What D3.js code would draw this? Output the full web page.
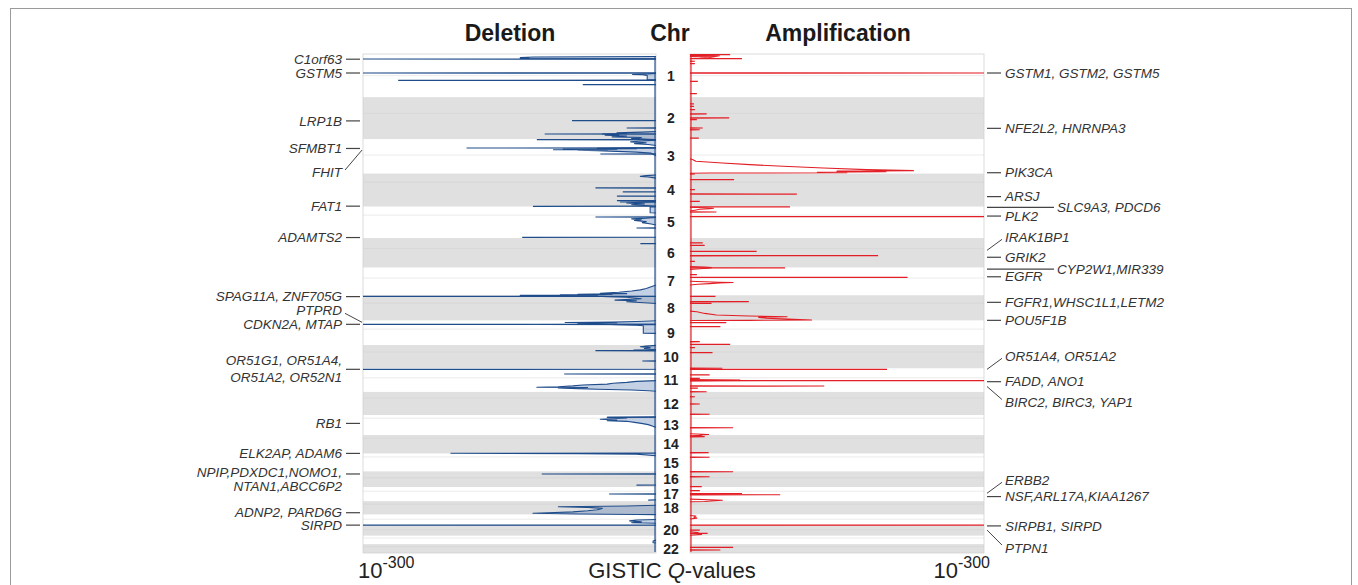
<!DOCTYPE html>
<html><head><meta charset="utf-8">
<script src="https://cdn.jsdelivr.net/npm/d3@7"></script>
<style>
body{margin:0;background:#fff;}
svg{display:block;font-family:"Liberation Sans",Arial,Helvetica,sans-serif;}
</style></head><body>
<svg id="chart" width="1358" height="585"></svg>
<script>
// ---------------- DATA ----------------
const chromosomes = d3.range(1, 23);
const chrLengths = [249.25,243.2,198.0,191.2,180.9,171.1,159.1,146.4,141.2,135.5,135.0,133.9,115.2,107.3,102.5,90.4,81.2,78.1,59.1,63.0,48.1,51.3];
const centromeres = [125.0,93.3,91.0,50.4,48.4,61.0,59.9,45.6,49.0,40.2,53.7,35.8,17.9,17.6,19.0,36.6,24.0,17.2,26.5,27.5,13.2,14.7];
const chrTickLabels = ["1","2","3","4","5","6","7","8","9","10","11","12","13","14","15","16","17","18","20","22"];

// [chromosome, position (Mb), -log10(q)]
const delSpikes = [
 [1,29,300],[1,109.7,300],[1,151.8,264],[1,177,75],
 [2,135.8,86],[2,178,30],[2,212.6,114],
 [3,2.4,122],[3,50.3,194],[3,85,57],
 [4,83,62],[4,106,34],[4,130,40],[4,156.6,40],[4,164,37],[4,188.7,126],
 [5,59.5,62],[5,123,20],[5,176.7,137],
 [6,32.7,16],
 [8,6.2,300],
 [9,21.5,300],[9,22.5,119],
 [10,28.6,23],[10,32.7,62],[10,92,14],
 [11,4.6,300],[11,31.7,94],
 [13,12.8,50],
 [16,15,117],[16,79,20],
 [17,40.3,48],[17,75,8],
 [20,1.5,300]
];
const delHumps = [
 [[1,14,0],[1,17,125],[1,20,139],[1,23,130],[1,26,139],[1,28,0]],
 [[1,112,0],[1,115,8],[1,118,24],[1,120,14],[1,124,9],[1,140,9],[1,148,9],[1,149,0]],
 [[2,198,0],[2,202,15],[2,206,40],[2,209,30],[2,213,55],[2,216,38],[2,220,52],[2,224,30],[2,229,45],[2,233,15],[2,238,25],[2,243,8],[3,2,0]],
 [[3,5,0],[3,10,15],[3,15,26],[3,20,10],[3,25,22],[3,30,8],[3,36,0]],
 [[3,48,0],[3,52,60],[3,54,20],[3,56,95],[3,58,40],[3,60,105],[3,62,50],[3,63,80],[3,66,60],[3,70,40],[3,74,20],[3,80,5],[3,95,0]],
 [[4,8,0],[4,12,10],[4,16,16],[4,20,8],[4,26,0]],
 [[4,160,0],[4,165,15],[4,170,30],[4,175,12],[4,180,25],[4,186,8],[4,190,0]],
 [[5,1,0],[5,2,6],[5,35,6],[5,36,0]],
 [[5,62,0],[5,66,10],[5,70,25],[5,75,15],[5,80,22],[5,86,10],[5,92,14],[5,100,5],[5,106,0]],
 [[7,100,0],[7,110,5],[7,120,10],[7,128,16],[7,135,25],[7,142,38],[7,148,57],[7,150,30],[7,153,80],[7,155,45],[7,156,98],[7,159,60],[8,1,139],[8,2,60],[8,3,100],[8,5,60],[8,8,50],[8,12,30],[8,20,15],[8,28,42],[8,32,20],[8,38,30],[8,45,8],[8,48,0]],
 [[9,1,0],[9,5,20],[9,9,45],[9,11,93],[9,13,40],[9,14,70],[9,17,80],[9,20,60],[9,24,40],[9,27,20],[9,30,13],[9,73,13],[9,74,0]],
 [[10,2,0],[10,6,10],[10,10,16],[10,15,6],[10,20,12],[10,26,4],[10,29,0]],
 [[11,70,0],[11,74,20],[11,80,30],[11,85,44],[11,90,50],[11,95,75],[11,100,85],[11,105,100],[11,108.5,122],[11,110,70],[11,112,100],[11,116,80],[11,120,60],[11,124,25],[11,128,8],[11,131,0]],
 [[13,10,0],[13,12.8,50],[13,16,30],[13,20,40],[13,24,57],[13,28,40],[13,32,50],[13,36,30],[13,42,22],[13,48,15],[13,55,8],[13,65,3],[13,70,0]],
 [[14,104.5,0],[14,105.5,210],[14,107,80],[15,3,20],[15,12,0]],
 [[18,24,0],[18,28,30],[18,32.4,100],[18,36,70],[18,42,55],[18,50,60],[18,56,70],[18,62,85],[18,67,110],[18,70.5,126],[18,74,80],[18,77,20],[18,78,0]],
 [[19,28,0],[19,31,20],[19,36,27],[19,42,15],[19,47,25],[19,50,0]],
 [[21,25,0],[21,30,3],[21,40,3],[21,42,0]]
];

const ampSpikes = [
 [1,4,41],[1,13,26],[1,27,53],[1,42,5],[1,56,5],[1,109.7,300],[1,157.6,8],[1,229,7],
 [2,39,4],[2,53,4],[2,72,5],[2,97,17],[2,120,40],[2,130,7],[2,178,13],[2,188,10],[2,236,9],
 [4,2.4,5],[4,35,45],[4,93,5],[4,118,109],[4,160,10],
 [5,0.5,102],[5,30.6,27],[5,57.7,300],
 [6,28,13],[6,42,15],[6,76.6,68],[6,102,192],[6,135,5],
 [7,1,97],[7,40,7],[7,55.6,222],
 [8,6.2,26],[8,37.4,60],[8,47,22],
 [9,12,37],[9,35,31],[9,122,10],[9,137,41],
 [10,15,5],[10,44,23],[10,134,33],
 [11,4.6,201],[11,37,20],[11,57,10],[11,70.4,300],[11,101,137],[11,113,8],[11,134,17],
 [12,28,5],[12,70,10],[12,129,20],
 [13,73,44],
 [14,9.6,15],[14,102,19],
 [15,21,20],
 [16,2,44],[16,31,20],[16,88,12],
 [17,21,10],[17,37.8,53],[17,44.5,92],
 [20,1.5,300],[20,30,10],[20,49,18],
 [22,18.5,44],[22,34,31]
];
const ampHumps = [
 [[1,8,0],[1,10,30],[1,14,26],[1,20,20],[1,24,10],[1,26,0]],
 [[3,112,0],[3,117.6,3],[3,127,6],[3,136.7,33],[3,146.4,61],[3,156,95],[3,165.7,136],[3,175.3,180],[3,181,228],[3,184,150],[3,187,200],[3,190,130],[3,193,160],[3,195,20],[3,196,0]],
 [[5,3,0],[5,6,15],[5,9,24],[5,11.5,20],[5,15,10],[5,20,5],[5,25,0]],
 [[6,165,0],[6,168,15],[6,171,22],[7,3,18],[7,6,10],[7,10,0]],
 [[7,78,0],[7,81,15],[7,84,30],[7,86,44],[7,88,30],[7,92,20],[7,96,8],[7,100,0]],
 [[8,92,0],[8,95,7],[8,105,15],[8,114,27],[8,120,60],[8,124,99],[8,128,70],[8,133,78],[8,138,100],[8,143,124],[8,145,60],[8,146.3,0]],
 [[11,64,0],[11,66,51],[11,69,30],[11,70,0]],
 [[13,108,0],[13,112,19],[13,115,10],[14,2,12],[14,5,0]],
 [[17,70,0],[17,73,20],[17,76,33],[17,79,25],[18,2,15],[18,4,0]],
 [[19,5,0],[19,8,6],[19,15,4],[19,20,7],[19,25,0]],
 [[20,40,0],[20,45,8],[20,55,12],[20,60,0]]
];

// gene labels: [text lines, chromosome, Mb]
const delGenes = [
 [["C1orf63"],1,30],[["GSTM5"],1,109.7],[["LRP1B"],2,137],[["SFMBT1"],3,53],[["FHIT"],3,62],
 [["FAT1"],4,188],[["ADAMTS2"],5,178],[["SPAG11A, ZNF705G"],8,8],[["PTPRD"],9,10],
 [["CDKN2A, MTAP"],9,21.5],[["OR51G1, OR51A4,","OR51A2, OR52N1"],11,4.6],[["RB1"],13,48],
 [["ELK2AP, ADAM6"],14,106],[["NPIP,PDXDC1,NOMO1,","NTAN1,ABCC6P2"],16,15],
 [["ADNP2, PARD6G"],18,67],[["SIRPD"],20,1.5]
];
const ampGenes = [
 [["GSTM1, GSTM2, GSTM5"],1,109.7],[["NFE2L2, HNRNPA3"],2,180],[["PIK3CA"],3,193],[["ARSJ"],4,133],
 [["SLC9A3, PDCD6"],5,3.5],[["PLK2"],5,54],[["IRAK1BP1"],6,71],[["GRIK2"],6,111],
 [["CYP2W1,MIR339"],7,8],[["EGFR"],7,52.5],[["FGFR1,WHSC1L1,LETM2"],8,41],[["POU5F1B"],8,145],
 [["OR51A4, OR51A2"],11,4.6],[["FADD, ANO1"],11,76],[["BIRC2, BIRC3, YAP1"],11,104],
 [["ERBB2"],17,36],[["NSF,ARL17A,KIAA1267"],17,55],[["SIRPB1, SIRPD"],20,6],[["PTPN1"],20,30]
];

// ---------------- LAYOUT ----------------
const labelShift = {"FHIT":22,"PTPRD":-12,"IRAK1BP1":-13,"OR51A4, OR51A2":-13,"BIRC2, BIRC3, YAP1":16,"ERBB2":-13,"PTPN1":18};
const longLeader = {"SLC9A3, PDCD6":true,"CYP2W1,MIR339":true};
const lineGap = {"OR51G1, OR51A4,":[-9,8],"NPIP,PDXDC1,NOMO1,":[-2,12]};

const svg = d3.select("#chart");
const offsets = {}; let acc = 0;
chromosomes.forEach((c,i)=>{offsets[c]=acc; acc+=chrLengths[i];});
const total = acc;
const y = d3.scaleLinear().domain([0,total]).range([54,553]);
const gpos = (c,m)=>y(offsets[c]+m);
const delX = d3.scaleLinear().domain([0,300]).range([656,363]);
const ampX = d3.scaleLinear().domain([0,300]).range([690,984]);

// outer frame
svg.append("rect").attr("x",10.5).attr("y",8.5).attr("width",1341).attr("height",590)
  .attr("fill","none").attr("stroke","#9a9a9a").attr("stroke-width",1);

function drawPanel(X, spikes, humps, stroke, fill, fillOpacity){
  const g = svg.append("g");
  const left = Math.min(...X.range()), right = Math.max(...X.range());
  g.selectAll("rect.band").data(chromosomes).join("rect")
    .attr("x",left).attr("width",right-left)
    .attr("y",c=>gpos(c,0)).attr("height",(c,i)=>gpos(c,chrLengths[i])-gpos(c,0))
    .attr("fill",(c,i)=> i%2 ? "#e0e0e0" : "#ffffff");
  g.selectAll("line.cen").data(chromosomes).join("line")
    .attr("x1",left).attr("x2",right)
    .attr("y1",(c,i)=>gpos(c,centromeres[i])).attr("y2",(c,i)=>gpos(c,centromeres[i]))
    .attr("stroke",(c,i)=> i%2 ? "#d6d6d6" : "#e6e6e6").attr("stroke-width",0.8);
  g.append("rect").attr("x",left).attr("y",y(0)).attr("width",right-left).attr("height",y(total)-y(0))
    .attr("fill","none").attr("stroke","#d2d2d2").attr("stroke-width",0.8);
  g.append("line").attr("x1",X(1)).attr("x2",X(1)).attr("y1",y(0)+2).attr("y2",y(total)-1)
    .attr("stroke",stroke).attr("stroke-width",1.2);
  const line = d3.line().x(d=>X(d[2])).y(d=>gpos(d[0],d[1]));
  g.selectAll("path.hump").data(humps).join("path")
    .attr("d",d=>line(d)).attr("fill",fill).attr("fill-opacity",fillOpacity)
    .attr("stroke",stroke).attr("stroke-width",1.1).attr("stroke-linejoin","round");
  g.selectAll("path.spike").data(spikes).join("path")
    .attr("d",d=>line([[d[0],d[1]-0.4,0],[d[0],d[1],d[2]],[d[0],d[1]+0.4,0]]))
    .attr("fill",stroke).attr("stroke",stroke).attr("stroke-width",1.2).attr("stroke-linejoin","miter");
}
drawPanel(delX, delSpikes, delHumps, "#1f4c8a", "#3a68a6", 0.3);
drawPanel(ampX, ampSpikes, ampHumps, "#e21f26", "#e8454a", 0);

// chromosome labels
svg.append("g").selectAll("text").data(chrTickLabels).join("text")
  .attr("x",671).attr("y",d=>{const c=+d; return (gpos(c,0)+gpos(c,chrLengths[c-1]))/2;})
  .attr("dy","0.36em").attr("text-anchor","middle")
  .attr("font-size",14).attr("font-weight","bold").attr("fill","#222").text(d=>d);

// titles
const titles = [["Deletion",510],["Chr",670],["Amplification",838]];
svg.append("g").selectAll("text").data(titles).join("text")
  .attr("x",d=>d[1]).attr("y",41).attr("text-anchor","middle")
  .attr("font-size",23).attr("font-weight","bold").attr("fill","#1a1a1a").text(d=>d[0]);

// gene labels
const labelColor = "#333";
const gl = svg.append("g").attr("font-size",13.5).attr("font-style","italic").attr("fill",labelColor);
delGenes.forEach(([lines,c,m])=>{
  const ay = gpos(c,m); const sh = labelShift[lines[0]]||0;
  const ty = ay+sh;
  if(sh){
    gl.append("line").attr("x1",362).attr("y1",ay).attr("x2",345).attr("y2",ty+(sh>0?-2:3))
      .attr("stroke","#444").attr("stroke-width",1);
  } else {
    gl.append("line").attr("x1",346).attr("x2",360).attr("y1",ay).attr("y2",ay)
      .attr("stroke","#444").attr("stroke-width",1.2);
  }
  const gaps = lineGap[lines[0]] || [0];
  lines.forEach((t,i)=>{
    gl.append("text").attr("x",342).attr("y",ty+gaps[i]).attr("dy","0.35em")
      .attr("text-anchor","end").text(t);
  });
});
ampGenes.forEach(([lines,c,m])=>{
  const ay = gpos(c,m); const sh = labelShift[lines[0]]||0;
  const ty = ay+sh;
  let tx = 1005;
  if(sh){
    gl.append("line").attr("x1",987).attr("y1",ay).attr("x2",1002).attr("y2",ty+(sh>0?-3:2))
      .attr("stroke","#444").attr("stroke-width",1);
  } else if(longLeader[lines[0]]){
    gl.append("line").attr("x1",987).attr("x2",1054).attr("y1",ay).attr("y2",ay)
      .attr("stroke","#444").attr("stroke-width",1.2);
    tx = 1057;
  } else {
    gl.append("line").attr("x1",987).attr("x2",1001).attr("y1",ay).attr("y2",ay)
      .attr("stroke","#444").attr("stroke-width",1.2);
  }
  lines.forEach((t,i)=>{
    gl.append("text").attr("x",tx).attr("y",ty+i*15).attr("dy","0.35em").text(t);
  });
});

// bottom axis labels
const bl = svg.append("g").attr("fill","#222");
const t1 = bl.append("text").attr("x",358).attr("y",578).attr("font-size",22);
t1.append("tspan").text("10");
t1.append("tspan").attr("dy",-10).attr("font-size",16).text("-300");
const t2 = bl.append("text").attr("x",990).attr("y",578).attr("font-size",22).attr("text-anchor","end");
t2.append("tspan").text("10");
t2.append("tspan").attr("dy",-10).attr("font-size",16).text("-300");
const t3 = bl.append("text").attr("x",672).attr("y",578).attr("font-size",22).attr("text-anchor","middle");
t3.append("tspan").text("GISTIC ");
t3.append("tspan").attr("font-style","italic").text("Q");
t3.append("tspan").text("-values");
</script>
</body></html>
